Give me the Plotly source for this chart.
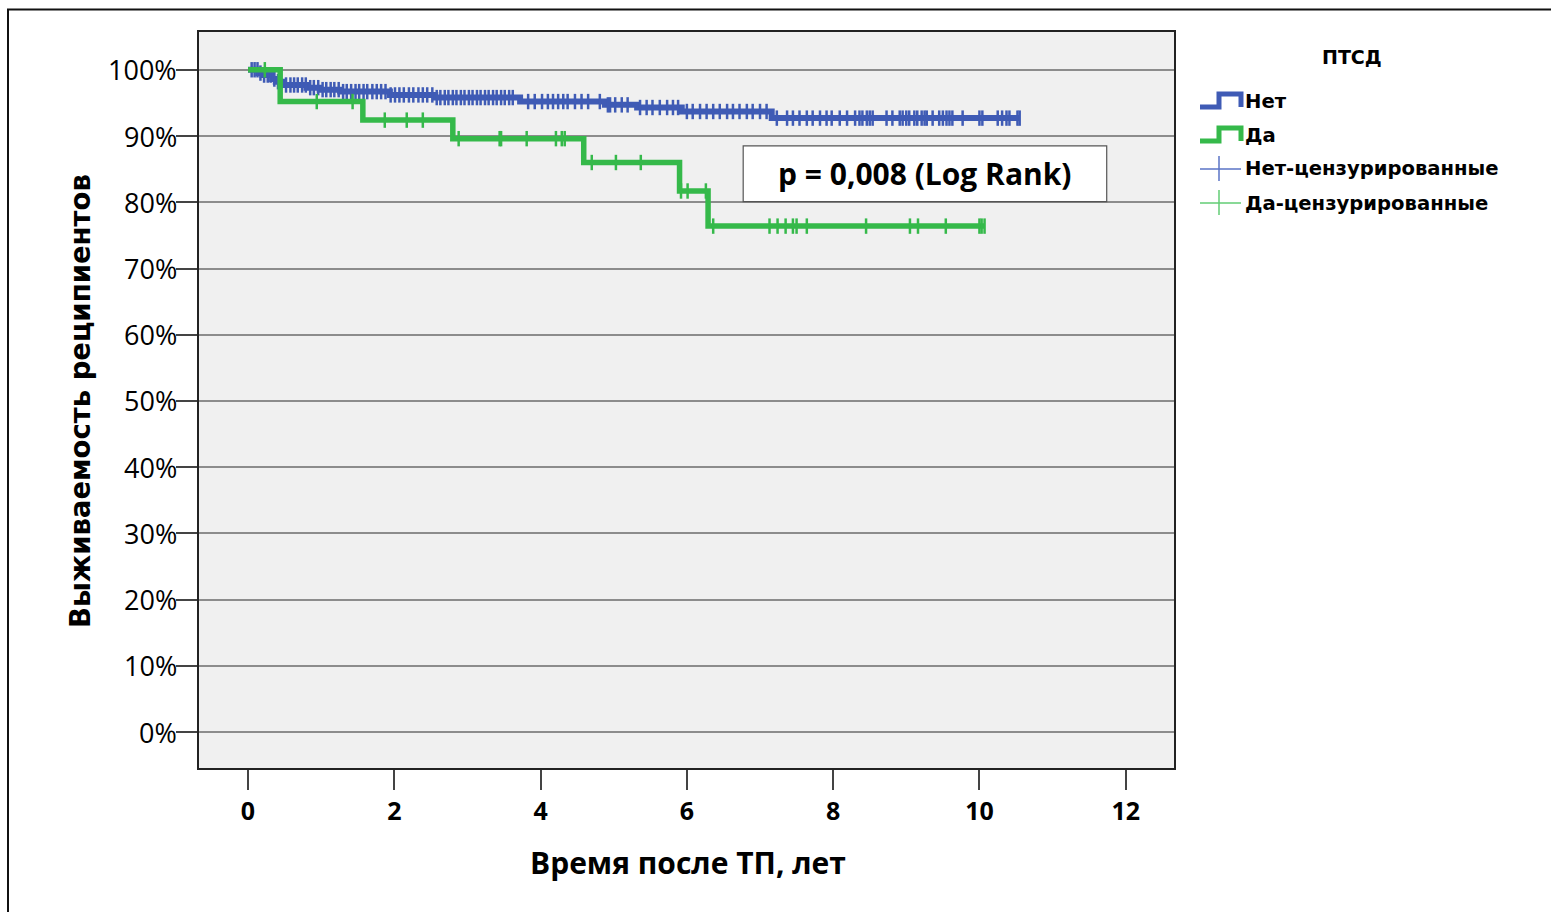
import plotly.graph_objects as go
import numpy as np

# Kaplan–Meier survival after transplantation, grouped by PTSD status
# "Нет" group: event times (years) and survival (%) after each step
no_times = [0.0, 0.14, 0.20, 0.33, 0.38, 0.48, 0.80, 0.98, 1.26, 1.94, 2.56,
            3.72, 4.88, 5.32, 5.93, 7.16]
no_surv = [100.0, 99.5, 99.2, 98.6, 98.2, 97.7, 97.3, 97.0, 96.7, 96.2, 95.8,
           95.2, 94.7, 94.3, 93.7, 92.7]
no_end = 10.55
no_censored = [
    0.05, 0.09, 0.13, 0.17, 0.22, 0.27, 0.31, 0.36, 0.41, 0.45, 0.52, 0.58,
    0.63, 0.68, 0.74, 0.79, 0.85, 0.90, 0.96, 1.02, 1.07, 1.13, 1.18, 1.24,
    1.30, 1.35, 1.41, 1.47, 1.52, 1.58, 1.63, 1.70, 1.76, 1.82, 1.88, 1.95,
    2.01, 2.07, 2.13, 2.20, 2.26, 2.33, 2.39, 2.45, 2.52, 2.58, 2.63, 2.69,
    2.74, 2.80, 2.85, 2.91, 2.96, 3.02, 3.07, 3.13, 3.18, 3.24, 3.29, 3.35,
    3.40, 3.46, 3.51, 3.57, 3.62, 3.83, 3.92, 4.02, 4.10, 4.17, 4.24, 4.31,
    4.37, 4.47, 4.56, 4.65, 4.81, 4.92, 4.95, 5.02, 5.11, 5.19, 5.36, 5.45,
    5.53, 5.63, 5.73, 5.81, 5.88, 6.00, 6.08, 6.18, 6.27, 6.36, 6.45, 6.55,
    6.63, 6.72, 6.82, 6.90, 7.00, 7.09, 7.23, 7.37, 7.45, 7.54, 7.64, 7.72,
    7.82, 7.91, 7.98, 8.09, 8.19, 8.30, 8.36, 8.40, 8.46, 8.50, 8.54, 8.73,
    8.81, 8.91, 8.95, 9.00, 9.04, 9.11, 9.15, 9.21, 9.25, 9.28, 9.36, 9.45,
    9.50, 9.55, 9.59, 9.63, 9.77, 10.00, 10.04, 10.25, 10.31, 10.37, 10.41,
    10.52, 10.55,
]

# "Да" group
yes_times = [0.0, 0.44, 1.57, 2.80, 4.59, 5.90, 6.29]
yes_surv = [100.0, 95.2, 92.4, 89.6, 86.0, 81.7, 76.4]
yes_end = 10.07
yes_censored = [0.23, 0.94, 1.43, 1.87, 2.17, 2.39, 2.88, 3.44, 3.46, 3.81,
                4.21, 4.29, 4.33, 4.70, 5.03, 5.37, 5.92, 6.01, 6.26, 6.36,
                7.13, 7.24, 7.35, 7.45, 7.50, 7.64, 8.45, 9.05, 9.16, 9.54,
                10.00, 10.03, 10.07]

x_ticks = [0, 2, 4, 6, 8, 10, 12]
y_ticks = [0, 10, 20, 30, 40, 50, 60, 70, 80, 90, 100]
y_tick_text = [f"{v}%" for v in y_ticks]

BLUE = "#3f5bb5"
GREEN = "#35b94a"
BLUE_LIGHT = "#5a73c6"
GREEN_LIGHT = "#62cc74"

W, H = 1551, 912
L, R, T, B = 199, 1174, 32, 768  # plot area in pixels


def step_value(times, surv, t):
    idx = np.searchsorted(times, t, side="right") - 1
    return surv[max(idx, 0)]


def px(xp, yp):
    """Pixel position on the page -> paper coordinates."""
    return (xp - L) / (R - L), (B - yp) / (B - T)


fig = go.Figure()

for times, surv, end, cens, col, lw in [
    (no_times, no_surv, no_end, no_censored, BLUE, 6),
    (yes_times, yes_surv, yes_end, yes_censored, GREEN, 5.5),
]:
    xs = list(times) + [end]
    ys = list(surv) + [surv[-1]]
    fig.add_trace(go.Scatter(x=xs, y=ys, mode="lines", line_shape="hv",
                             line=dict(color=col, width=lw), showlegend=False,
                             hoverinfo="skip"))
    cy = [step_value(times, surv, t) for t in cens]
    fig.add_trace(go.Scatter(x=cens, y=cy, mode="markers", showlegend=False,
                             marker=dict(symbol="line-ns", size=11,
                                         line=dict(color=col, width=2.5)),
                             hoverinfo="skip"))

shapes = []
annotations = []

# outer frame of the figure
shapes.append(dict(type="rect", xref="paper", yref="paper",
                   x0=px(8, 0)[0], x1=px(1600, 0)[0],
                   y0=px(0, 960)[1], y1=px(0, 9.5)[1],
                   line=dict(color="#111", width=2), fillcolor="rgba(0,0,0,0)",
                   layer="below"))

# log-rank box
shapes.append(dict(type="rect", xref="x", yref="y",
                   x0=6.77, x1=11.74, y0=80.1, y1=88.5,
                   line=dict(color="#555", width=1.2), fillcolor="white",
                   layer="above"))
annotations.append(dict(x=9.255, y=84.3, xref="x", yref="y",
                        text="p = 0,008 (Log Rank)", showarrow=False,
                        font=dict(family="Open Sans", size=30, color="black",
                                  weight="bold")))

# y tick labels, right-aligned against the tick marks
for v, txt in zip(y_ticks, y_tick_text):
    annotations.append(dict(x=px(179, 0)[0], y=v, xref="paper", yref="y",
                            text=txt, showarrow=False, xanchor="right",
                            yanchor="middle", xshift=0,
                            font=dict(family="Open Sans", size=27,
                                      color="black")))

# legend
lx0, lx1, lmid = 1200, 1241, 1219
annotations.append(dict(x=px(1352, 0)[0], y=px(0, 57)[1], xref="paper",
                        yref="paper", text="ПТСД", showarrow=False,
                        xanchor="center", yanchor="middle",
                        font=dict(family="DejaVu Sans", size=19, color="black",
                                  weight="bold")))
legend_items = [("Нет", BLUE, "step", 101),
                ("Да", GREEN, "step", 135),
                ("Нет-цензурированные", BLUE_LIGHT, "cross", 169),
                ("Да-цензурированные", GREEN_LIGHT, "cross", 203)]
for label, col, kind, yc in legend_items:
    if kind == "step":
        pts = [px(lx0, yc + 6), px(lmid, yc + 6), px(lmid, yc - 7),
               px(lx1, yc - 7), px(lx1, yc + 6)]
        path = "M " + " L ".join(f"{a:.5f},{b:.5f}" for a, b in pts)
        shapes.append(dict(type="path", xref="paper", yref="paper", path=path,
                           line=dict(color=col, width=5)))
    else:
        a0, b0 = px(lx0, yc)
        a1, _ = px(lx1, yc)
        shapes.append(dict(type="line", xref="paper", yref="paper",
                           x0=a0, x1=a1, y0=b0, y1=b0,
                           line=dict(color=col, width=1.5)))
        m, t0 = px(lmid, yc - 13)
        _, t1 = px(lmid, yc + 12)
        shapes.append(dict(type="line", xref="paper", yref="paper",
                           x0=m, x1=m, y0=t0, y1=t1,
                           line=dict(color=col, width=1.5)))
    annotations.append(dict(x=px(1243, 0)[0], y=px(0, yc)[1], xref="paper",
                            yref="paper", text=label, showarrow=False,
                            xanchor="left", yanchor="middle",
                            font=dict(family="DejaVu Sans", size=19.6,
                                      color="black", weight="bold")))

# axis titles
annotations.append(dict(x=px(80, 0)[0], y=px(0, 401)[1], xref="paper",
                        yref="paper", text="Выживаемость реципиентов",
                        textangle=-90, showarrow=False, xanchor="center",
                        yanchor="middle",
                        font=dict(family="DejaVu Sans", size=27.5,
                                  color="black", weight="bold")))
annotations.append(dict(x=px(688, 0)[0], y=px(0, 862)[1], xref="paper",
                        yref="paper", text="Время после ТП, лет",
                        showarrow=False, xanchor="center", yanchor="middle",
                        font=dict(family="Open Sans", size=30, color="black",
                                  weight="bold")))

fig.update_layout(
    width=W, height=H,
    margin=dict(l=L, r=W - R, t=T, b=H - B, pad=0),
    paper_bgcolor="white", plot_bgcolor="#f0f0f0",
    shapes=shapes, annotations=annotations,
    showlegend=False,
    xaxis=dict(range=[-0.67, 12.66], tickvals=x_ticks,
               ticktext=[str(v) for v in x_ticks], showgrid=False,
               zeroline=False, showline=True, linecolor="#222", linewidth=1.5,
               mirror=True, ticks="outside", ticklen=20, tickwidth=1.5,
               tickcolor="#444",
               tickfont=dict(family="Open Sans", size=25, color="black",
                             weight="bold")),
    yaxis=dict(range=[-5.4, 105.7], tickvals=y_ticks, showticklabels=False,
               showgrid=True, gridcolor="#8c8c8c", gridwidth=1.5,
               zeroline=False, showline=True, linecolor="#222", linewidth=1.5,
               mirror=True, ticks="outside", ticklen=21, tickwidth=1.5,
               tickcolor="#444"),
)

fig.write_html("out.html")
